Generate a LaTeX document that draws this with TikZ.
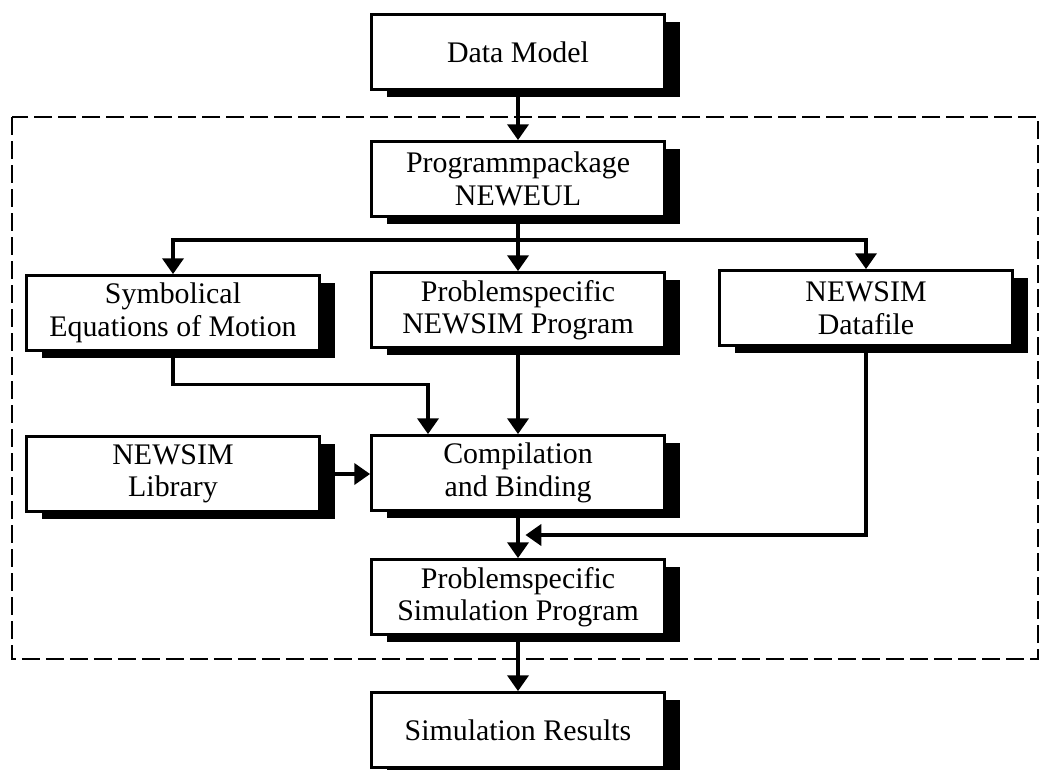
\documentclass[tikz,border=0pt]{standalone}
\usepackage{fontspec}
\setmainfont{Liberation Serif}
\usepackage{tikz}
\usetikzlibrary{arrows.meta, shadows, calc}

\begin{document}
\begin{tikzpicture}[font=\fontsize{17}{18.5}\selectfont,
    block/.style={draw, line width=1.6pt, fill=white, align=center,
        minimum width=5.86cm, minimum height=1.5cm, inner sep=2pt,
        drop shadow={shadow xshift=0.3cm, shadow yshift=-0.15cm, fill=black, opacity=1}},
    flow/.style={-{Triangle[length=9pt, width=12pt]}, line width=2pt}]
    \useasboundingbox (0,0) rectangle (20.82,-15.38);
    % program package frame
    \draw[line width=1.6pt, dash pattern=on 0.36cm off 0.12cm] (0.24,-2.34) rectangle (20.76,-13.18);
    \node[block] (datamodel) at (10.36,-1.04) {Data Model};
    \node[block] (neweul) at (10.36,-3.58) {Programmpackage\\NEWEUL};
    \node[block] (symeq) at (3.46,-6.26) {Symbolical\\Equations of Motion};
    \node[block] (nsprog) at (10.36,-6.20) {Problemspecific\\NEWSIM Program};
    \node[block] (nsdata) at (17.32,-6.16) {NEWSIM\\Datafile};
    \node[block] (nslib) at (3.46,-9.48) {NEWSIM\\Library};
    \node[block] (compbind) at (10.36,-9.46) {Compilation\\and Binding};
    \node[block] (simprog) at (10.36,-11.94) {Problemspecific\\Simulation Program};
    \node[block] (simres) at (10.36,-14.60) {Simulation Results};
    \coordinate (split) at (10.36,-4.80);
    \coordinate (merge) at ($(compbind.south)!0.5!(simprog.north)+(0.15,0)$);
    \draw[flow] (datamodel) -- (neweul);
    \draw[flow] (neweul) -- (nsprog);
    \draw[flow] (split) -| (symeq.north);
    \draw[flow] (split) -| (nsdata.north);
    \draw[flow] (symeq.south) -- ++(0,-0.65) -| ([xshift=-1.8cm]compbind.north);
    \draw[flow] (nsprog) -- (compbind);
    \draw[flow] (nslib.east) -- (nslib.east -| compbind.west);
    \draw[flow] (nsdata.south) |- (merge);
    \draw[flow] (compbind) -- (simprog);
    \draw[flow] (simprog) -- (simres);
\end{tikzpicture}
\end{document}
